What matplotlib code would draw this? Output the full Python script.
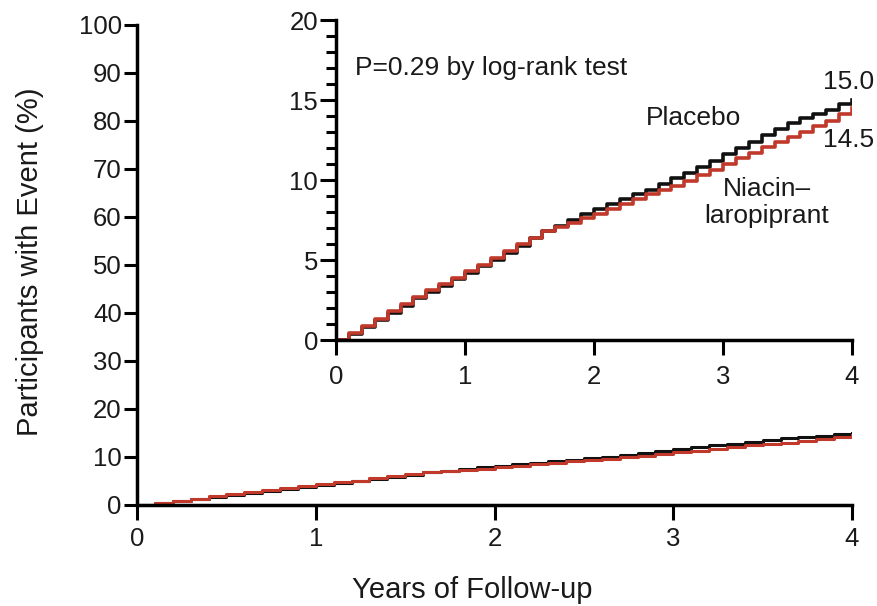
import numpy as np
import matplotlib
matplotlib.use("Agg")
import matplotlib.pyplot as plt
from matplotlib.ticker import MultipleLocator

plt.rcParams['font.family'] = ['Liberation Sans', 'DejaVu Sans']

# cumulative incidence (%), every 0.1 year
YEARS = np.round(np.arange(0, 4.01, 0.1), 1)
PLACEBO = [0, 0.4, 0.8, 1.25, 1.7, 2.15, 2.6, 3.0, 3.4, 3.8,
           4.2, 4.6, 5.0, 5.45, 5.9, 6.35, 6.8, 7.15, 7.5, 7.85,
           8.2, 8.5, 8.8, 9.1, 9.4, 9.75, 10.1, 10.45, 10.8, 11.2,
           11.6, 12.0, 12.4, 12.8, 13.2, 13.55, 13.9, 14.15, 14.4, 14.75,
           15.0]
NIACIN = [0, 0.45, 0.85, 1.3, 1.8, 2.25, 2.7, 3.1, 3.5, 3.9,
          4.3, 4.7, 5.1, 5.55, 6.0, 6.4, 6.8, 7.05, 7.3, 7.6,
          7.9, 8.2, 8.5, 8.8, 9.1, 9.35, 9.6, 9.95, 10.3, 10.65,
          11.0, 11.35, 11.7, 12.05, 12.4, 12.7, 13.0, 13.35, 13.7, 14.1,
          14.5]

BLACK = "#111111"
RED = "#c0392b"
TXT = "#1a1a1a"
TICK_FS = 18.5
ANN_FS = 19

fig = plt.figure(figsize=(8.77, 6.06), dpi=100)

# --- main panel ------------------------------------------------------------
ax = fig.add_axes([137/877, 1 - 505/606, (852-137)/877, (505-25)/606])
ax.plot(YEARS, PLACEBO, color=BLACK, lw=2.2, drawstyle="steps-post")
ax.plot(YEARS, NIACIN, color=RED, lw=2.2, drawstyle="steps-post")
ax.set_xlim(0, 4)
ax.set_ylim(0, 100)
ax.set_xticks(range(0, 5))
ax.set_yticks(range(0, 101, 10))
for s in ("top", "right"):
    ax.spines[s].set_visible(False)
for s in ("left", "bottom"):
    ax.spines[s].set_linewidth(2.5)
ax.tick_params(axis="y", length=9.5, width=2.2, pad=1.5, labelsize=TICK_FS, labelcolor=TXT)
ax.tick_params(axis="x", length=11, width=2.2, pad=5, labelsize=TICK_FS, labelcolor=TXT)

fig.text(30/877, 1 - 262/606, "Participants with Event (%)", rotation=90,
         ha="center", va="center", fontsize=21, color=TXT)
fig.text(472/877, 1 - 590/606, "Years of Follow-up", ha="center", va="center",
         fontsize=21, color=TXT)

# --- inset -----------------------------------------------------------------
ins = fig.add_axes([336/877, 1 - 340/606, (852-336)/877, (340-20)/606])
ins.plot(YEARS, PLACEBO, color=BLACK, lw=2.6, drawstyle="steps-post")
ins.plot(YEARS, NIACIN, color=RED, lw=2.6, drawstyle="steps-post")
ins.set_xlim(0, 4)
ins.set_ylim(0, 20)
ins.set_xticks(range(0, 5))
ins.set_yticks(range(0, 21, 5))
ins.yaxis.set_minor_locator(MultipleLocator(1))
for s in ("top", "right"):
    ins.spines[s].set_visible(False)
for s in ("left", "bottom"):
    ins.spines[s].set_linewidth(2.5)
ins.tick_params(axis="y", which="major", length=11.5, width=2.2, pad=1.5,
                labelsize=TICK_FS, labelcolor=TXT)
ins.tick_params(axis="y", which="minor", length=7, width=2.2)
ins.tick_params(axis="x", length=11, width=2.2, pad=7, labelsize=TICK_FS, labelcolor=TXT)

ins.text(0.15, 17.0, "P=0.29 by log-rank test", fontsize=ANN_FS, color=TXT,
         ha="left", va="center")
ins.text(2.775, 13.9, "Placebo", fontsize=ANN_FS, color=TXT, ha="center", va="center")
ins.text(3.97, 16.1, "15.0", fontsize=ANN_FS, color=TXT, ha="center", va="center")
ins.text(3.97, 12.5, "14.5", fontsize=ANN_FS, color=TXT, ha="center", va="center")
ins.text(3.34, 8.6, "Niacin\u2013\nlaropiprant", fontsize=ANN_FS, color=TXT,
         ha="center", va="center", linespacing=1.15)

fig.savefig("out.png", dpi=100)
